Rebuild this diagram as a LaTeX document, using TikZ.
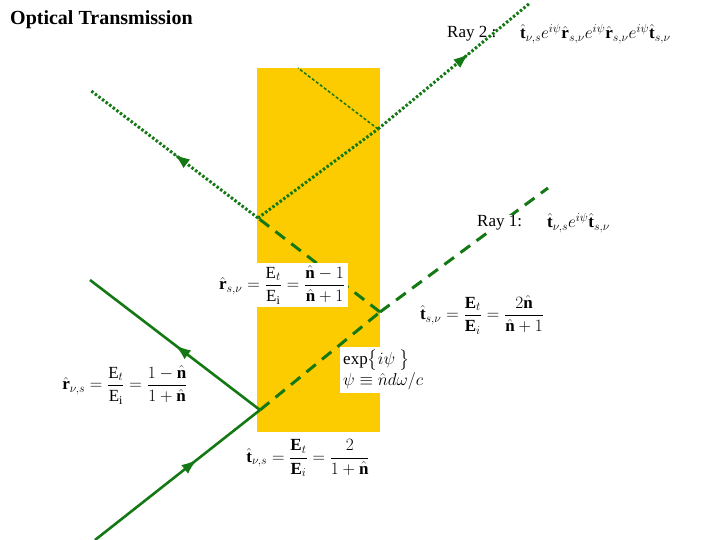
\documentclass[tikz,border=0pt]{standalone}
\usepackage{amsmath}
\usepackage{fontspec}
\setmainfont{Liberation Serif}
\usetikzlibrary{decorations.markings,arrows.meta}
\definecolor{ray}{RGB}{20,120,20}
\definecolor{slab}{RGB}{252,204,0}
\begin{document}
\begin{tikzpicture}[x=1pt,y=-1pt,
  sol/.style={draw=ray,line width=2.6pt},
  dsh/.style={draw=ray,line width=3pt,dash pattern=on 12pt off 8pt},
  dot/.style={draw=ray,line width=3pt,dash pattern=on 2.5pt off 2pt},
  thindot/.style={draw=ray,line width=1.5pt,dash pattern=on 3pt off 2pt},
  arr/.style={postaction={decorate},decoration={markings,mark=at position #1 with {\arrow[ray]{Latex[length=16pt,width=11pt]}}}},
  lab/.style={font=\fontsize{17}{19}\selectfont,inner sep=2pt},
  wbox/.style={fill=white,inner sep=3pt,font=\fontsize{17}{19}\selectfont}]
\useasboundingbox (0,0) rectangle (720,540);
\fill[slab] (257,68) rectangle (380,432);
\coordinate (A) at (95,540);
\coordinate (P) at (260,410);
\coordinate (R0) at (90,280);
\coordinate (Q) at (380,312);
\coordinate (T1) at (548,188);
\coordinate (L) at (258,218);
\coordinate (R1) at (90,90);
\coordinate (S) at (378,129);
\coordinate (T2) at (530,3);
\coordinate (S2) at (298,68);
\draw[sol,arr=0.62] (A) -- (P);
\draw[sol,arr=0.5] (P) -- (R0);
\draw[dsh] (P) -- (Q);
\draw[dsh] (Q) -- (T1);
\draw[dsh] (Q) -- (L);
\draw[dot,arr=0.5] (L) -- (R1);
\draw[dot] (L) -- (S);
\draw[dot,arr=0.6] (S) -- (T2);
\draw[thindot] (S) -- (S2);
\node[anchor=north west,font=\bfseries\fontsize{20}{22}\selectfont,inner sep=0pt] (title) at (10,10) {Optical Transmission};
\node[lab,anchor=west] (ray2) at (445,34) {Ray 2 :};
\node[lab,anchor=west] (ray2f) at (518,34) {$\hat{\mathbf t}_{\nu,s}e^{i\psi}\hat{\mathbf r}_{s,\nu}e^{i\psi}\hat{\mathbf r}_{s,\nu}e^{i\psi}\hat{\mathbf t}_{s,\nu}$};
\node[lab,anchor=west,fill=white,inner sep=1pt] (ray1) at (476,223) {Ray 1:};
\node[lab,anchor=west] (ray1f) at (545,223) {$\hat{\mathbf t}_{\nu,s}e^{i\psi}\hat{\mathbf t}_{s,\nu}$};
\node[wbox] (rsv) at (282,285) {$\hat{\mathbf r}_{s,\nu}=\dfrac{\mathrm E_t}{\mathrm E_{\mathrm i}}=\dfrac{\hat{\mathbf n}-1}{\hat{\mathbf n}+1}$};
\node[lab] (tsv) at (482,315) {$\hat{\mathbf t}_{s,\nu}=\dfrac{\mathbf E_t}{\mathbf E_i}=\dfrac{2\hat{\mathbf n}}{\hat{\mathbf n}+1}$};
\node[wbox,align=left,anchor=north west] (exp) at (340,347) {$\exp\bigl\{i\psi\ \bigr\}$\\[2pt] $\psi\equiv\hat n d\omega/c$};
\node[lab] (rvs) at (125,385) {$\hat{\mathbf r}_{\nu,s}=\dfrac{\mathrm E_t}{\mathrm E_{\mathrm i}}=\dfrac{1-\hat{\mathbf n}}{1+\hat{\mathbf n}}$};
\node[lab] (tvs) at (308,458) {$\hat{\mathbf t}_{\nu,s}=\dfrac{\mathbf E_t}{\mathbf E_i}=\dfrac{2}{1+\hat{\mathbf n}}$};
\end{tikzpicture}
\end{document}
